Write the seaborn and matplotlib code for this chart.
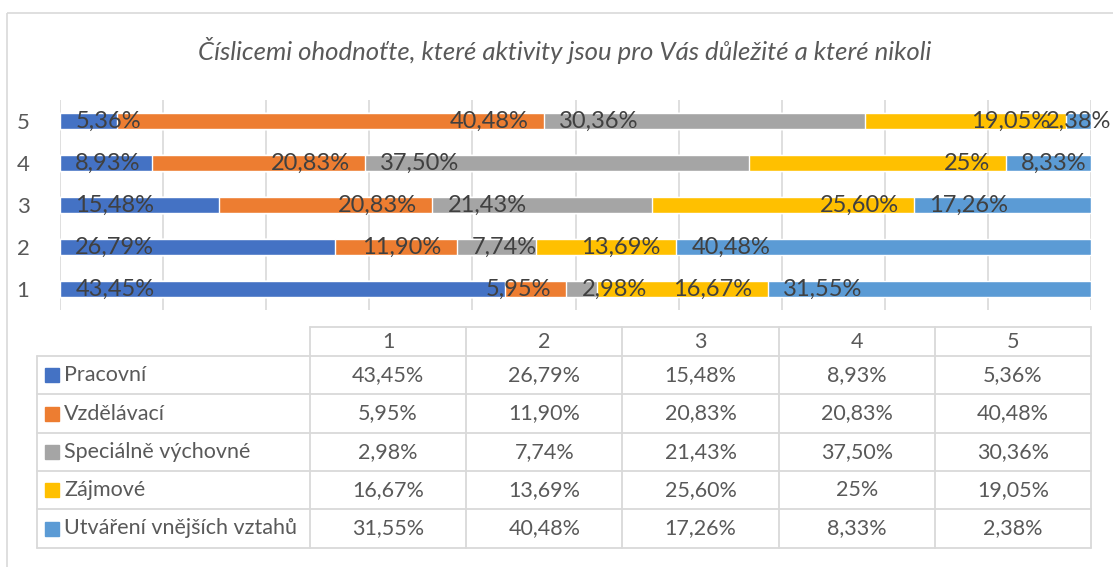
import pandas as pd
import seaborn as sns
import matplotlib.pyplot as plt
from matplotlib.patches import Rectangle

# data
ratings = ['1', '2', '3', '4', '5']
series = ['Pracovní', 'Vzdělávací', 'Speciálně výchovné', 'Zájmové', 'Utváření vnějších vztahů']
pracovni = [43.45, 26.79, 15.48, 8.93, 5.36]
vzdelavaci = [5.95, 11.90, 20.83, 20.83, 40.48]
specialne = [2.98, 7.74, 21.43, 37.50, 30.36]
zajmove = [16.67, 13.69, 25.60, 25.00, 19.05]
vztahy = [31.55, 40.48, 17.26, 8.33, 2.38]
colors = ['#4472C4', '#ED7D31', '#A5A5A5', '#FFC000', '#5B9BD5']
title = 'Číslicemi ohodnoťte, které aktivity jsou pro Vás důležité a které nikoli'

sns.set_style('white')
plt.rcParams['font.family'] = ['Lato', 'DejaVu Sans']

df = pd.DataFrame({'rating': ratings, 'Pracovní': pracovni, 'Vzdělávací': vzdelavaci,
                   'Speciálně výchovné': specialne, 'Zájmové': zajmove,
                   'Utváření vnějších vztahů': vztahy})

def fmt(v):
    s = f'{v:.2f}'.replace('.', ',')
    if s.endswith(',00'):
        s = s[:-3]
    return s + '%'

# 100% stacked: normalise every row
share = df[series].div(df[series].sum(axis=1), axis=0) * 100
cum = share.cumsum(axis=1)
start = cum - share

W, H = 1113, 567
fig = plt.figure(figsize=(W / 100, H / 100), dpi=100)

# frame + table drawn in pixel coordinates
bg = fig.add_axes([0, 0, 1, 1])
bg.set_xlim(0, W)
bg.set_ylim(H, 0)
bg.axis('off')
bg.add_patch(Rectangle((7, 13), W, H, fill=False, edgecolor='#d9d9d9', lw=1.2))

ax = fig.add_axes([60 / W, (H - 310) / H, 1031 / W, 210 / H])
order = ratings[::-1]
for i in range(len(series) - 1, -1, -1):
    d = pd.DataFrame({'rating': ratings, 'x': cum[series[i]]})
    sns.barplot(data=d, x='x', y='rating', order=order, orient='h', color=colors[i],
                width=0.4, saturation=1, errorbar=None, ax=ax, zorder=2)

# data labels: alternate inside base / inside end like Excel
labels = []
for i, s in enumerate(series):
    for k, r in enumerate(ratings):
        ypos = order.index(r)
        v = df[s].iloc[k]
        if i % 2 == 0:
            t = ax.annotate(fmt(v), (start[s].iloc[k], ypos), xytext=(11, 0),
                            textcoords='offset points', ha='left', va='center',
                            fontsize=17, color='#404040', zorder=5, annotation_clip=False)
        else:
            t = ax.annotate(fmt(v), (cum[s].iloc[k], ypos), xytext=(-11, 0),
                            textcoords='offset points', ha='right', va='center',
                            fontsize=17, color='#404040', zorder=5, annotation_clip=False)
        labels.append(t)

ax.set_xlim(0, 100)
ax.set_ylim(4.5, -0.5)
ax.set_xticks(range(0, 101, 10))
ax.set_xticklabels([])
ax.tick_params(axis='x', length=0)
ax.tick_params(axis='y', length=0, labelsize=16, labelcolor='#595959', pad=22)
ax.xaxis.grid(True, color='#d9d9d9', lw=1.2)
ax.set_axisbelow(True)
ax.set_xlabel('')
ax.set_ylabel('')
for sp in ax.spines.values():
    sp.set_visible(False)

fig.text(565 / W, 1 - 50 / H, title, ha='center', va='center', fontsize=18.5,
         style='italic', color='#595959')

# keep labels inside the chart area (Excel pushes them back in)
fig.canvas.draw()
rend = fig.canvas.get_renderer()
for t in labels:
    bb = t.get_window_extent(rend)
    over = bb.x1 - (W - 2)
    if over > 0:
        dx, dy = t.xyann
        t.xyann = (dx - over * 72 / 100, dy)

# data table
col_x = [310 + 156.2 * k for k in range(6)]
row_y = [327, 356, 394, 433, 471, 509, 548]
lc = '#d9d9d9'
tc = '#595959'
tfs = 15.5
bg.plot([col_x[0], col_x[-1]], [row_y[0], row_y[0]], color=lc, lw=1.3)
for y in row_y[1:]:
    bg.plot([37, col_x[-1]], [y, y], color=lc, lw=1.3)
bg.plot([37, 37], [row_y[1], row_y[-1]], color=lc, lw=1.3)
for x in col_x:
    bg.plot([x, x], [row_y[0], row_y[-1]], color=lc, lw=1.3)
for k, r in enumerate(ratings):
    cx = (col_x[k] + col_x[k + 1]) / 2
    bg.text(cx, (row_y[0] + row_y[1]) / 2, r, ha='center', va='center', fontsize=tfs, color=tc)
for j, s in enumerate(series):
    cy = (row_y[j + 1] + row_y[j + 2]) / 2
    bg.add_patch(Rectangle((45, cy - 7), 14, 14, color=colors[j]))
    bg.text(64, cy, s, ha='left', va='center', fontsize=tfs, color=tc)
    for k, r in enumerate(ratings):
        cx = (col_x[k] + col_x[k + 1]) / 2
        bg.text(cx, cy, fmt(df[s].iloc[k]), ha='center', va='center', fontsize=tfs, color=tc)

fig.savefig('out.png', dpi=100)
